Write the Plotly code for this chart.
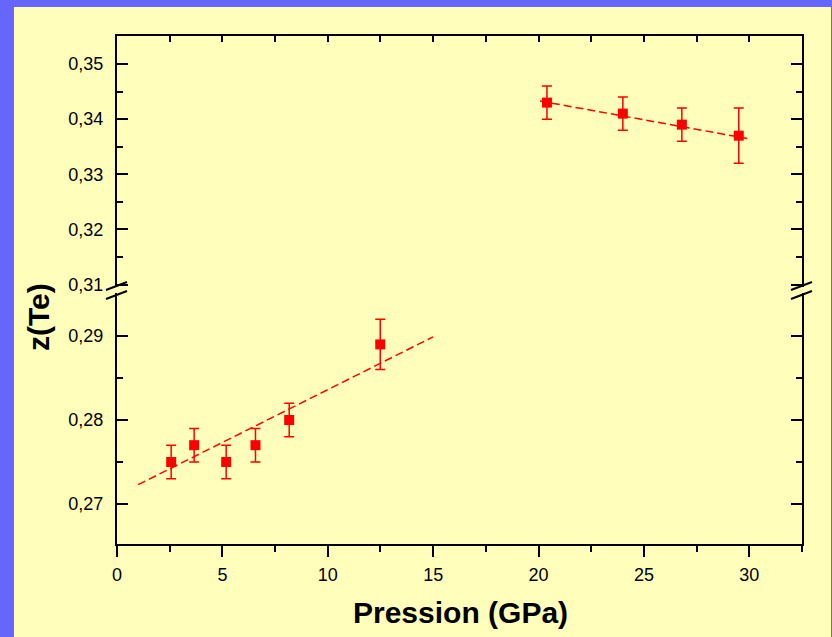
import plotly.graph_objects as go

# ---------------- data ----------------
p_low = [2.57, 3.66, 5.18, 6.57, 8.17, 12.49]
z_low = [0.275, 0.277, 0.275, 0.277, 0.280, 0.289]
err_low = [0.002, 0.002, 0.002, 0.002, 0.002, 0.003]

p_high = [20.4, 24.0, 26.8, 29.5]
z_high = [0.343, 0.341, 0.339, 0.337]
err_high = [0.003, 0.003, 0.003, 0.005]

fit_low_p = [1.0, 15.0]
fit_low_z = [0.2723, 0.2899]
fit_high_p = [20.07, 29.9]
fit_high_z = [0.34328, 0.3365]

x_range = [0, 32.5]
y_low_range = [0.265238, 0.295119]
y_high_range = [0.309546, 0.355082]

# ---------------- geometry ----------------
W, H = 832, 637
L, R, T, B = 117, 802, 36, 544
PW, PH = R - L, B - T


def px(x):
    return (x - L) / PW


def py(y):
    return (B - y) / PH


RED = "#ff0000"
FONT = "Liberation Sans, Arial, sans-serif"

fig = go.Figure()

fig.add_trace(go.Scatter(
    x=fit_low_p, y=fit_low_z, mode="lines", xaxis="x", yaxis="y",
    line=dict(color=RED, width=1.5, dash="8px,4px"), hoverinfo="skip"))
fig.add_trace(go.Scatter(
    x=p_low, y=z_low, mode="markers", xaxis="x", yaxis="y",
    marker=dict(symbol="square", size=10, color=RED),
    error_y=dict(type="data", array=err_low, visible=True, color=RED,
                 thickness=1.5, width=5)))

fig.add_trace(go.Scatter(
    x=fit_high_p, y=fit_high_z, mode="lines", xaxis="x2", yaxis="y2",
    line=dict(color=RED, width=1.5, dash="8px,4px"), hoverinfo="skip"))
fig.add_trace(go.Scatter(
    x=p_high, y=z_high, mode="markers", xaxis="x2", yaxis="y2",
    marker=dict(symbol="square", size=10, color=RED),
    error_y=dict(type="data", array=err_high, visible=True, color=RED,
                 thickness=1.5, width=5)))

tickfont = dict(family=FONT, size=18, color="black")

common_axis = dict(showline=True, linecolor="black", linewidth=2,
                   showgrid=False, zeroline=False, tickcolor="black",
                   tickwidth=1.5, tickfont=tickfont)

low_dom = [0, py(293)]
high_dom = [py(287), 1]

fig.update_layout(
    width=W, height=H,
    margin=dict(l=L, r=W - R, t=T, b=H - B, pad=0),
    paper_bgcolor="#6666ff",
    plot_bgcolor="rgba(0,0,0,0)",
    separators=", ",
    showlegend=False,
    xaxis=dict(common_axis, range=x_range, domain=[0, 1], anchor="y",
               tickmode="linear", tick0=0, dtick=5, ticks="outside",
               ticklen=11, ticklabelstandoff=2,
               minor=dict(dtick=2.5, ticklen=6, ticks="outside",
                          tickcolor="black", tickwidth=1.5)),
    xaxis2=dict(common_axis, range=x_range, domain=[0, 1], anchor="y2",
                side="top", tickmode="linear", tick0=0, dtick=5,
                ticks="inside", ticklen=6, showticklabels=False,
                minor=dict(dtick=2.5, ticklen=6, ticks="inside",
                           tickcolor="black", tickwidth=1.5)),
    yaxis=dict(common_axis, range=y_low_range, domain=low_dom, anchor="x",
               tickmode="linear", tick0=0.27, dtick=0.01, tickformat=".2f",
               ticks="inside", ticklen=11, mirror="ticks",
               ticklabelstandoff=8,
               minor=dict(dtick=0.005, ticklen=6, ticks="inside",
                          tickcolor="black", tickwidth=1.5)),
    yaxis2=dict(common_axis, range=y_high_range, domain=high_dom,
                anchor="x2", tickmode="linear", tick0=0.31, dtick=0.01,
                tickformat=".2f", ticks="inside", ticklen=11,
                mirror="ticks", ticklabelstandoff=8,
                minor=dict(dtick=0.005, ticklen=6, ticks="inside",
                           tickcolor="black", tickwidth=1.5)),
)

shapes = [
    # yellow panel
    dict(type="rect", xref="paper", yref="paper", layer="below",
         x0=px(14), x1=px(831), y0=py(H + 5), y1=py(7),
         fillcolor="#ffffbb", line=dict(width=0)),
]
# axis-break slashes on left and right axes
for ax in (L, R):
    for (ya, yb) in ((290, 282), (299, 291)):
        shapes.append(dict(type="line", xref="paper", yref="paper",
                           x0=px(ax - 11), y0=py(ya), x1=px(ax + 10), y1=py(yb),
                           line=dict(color="black", width=2)))
fig.update_layout(shapes=shapes)

fig.add_annotation(text="<b>Pression (GPa)</b>", xref="paper", yref="paper",
                   x=px(460), y=py(612), xanchor="center", yanchor="middle",
                   showarrow=False,
                   font=dict(family=FONT, size=30, color="black"))
fig.add_annotation(text="<b>z(Te)</b>", xref="paper", yref="paper",
                   x=px(38), y=py(317), xanchor="center", yanchor="middle",
                   textangle=-90, showarrow=False,
                   font=dict(family=FONT, size=30, color="black"))

fig.write_html(
    "out.html",
    config={"displayModeBar": False},
    post_script="document.body.style.margin='0px';"
                "document.body.style.padding='0px';"
                "document.body.style.overflow='hidden';"
                "document.documentElement.style.overflow='hidden';",
)
